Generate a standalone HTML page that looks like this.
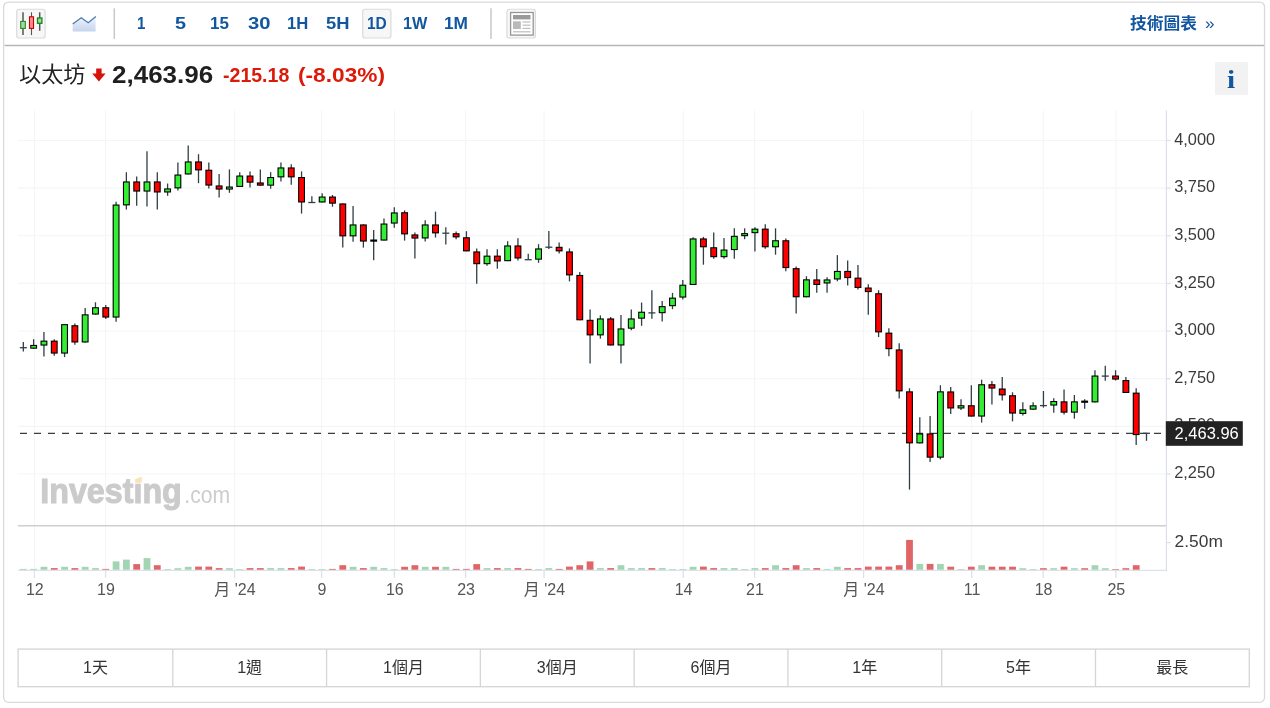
<!DOCTYPE html><html lang="zh-Hant"><head><meta charset="utf-8"><title>以太坊 圖表</title><style>html,body{margin:0;padding:0;background:#fff}body{width:1270px;height:708px;position:relative;overflow:hidden;font-family:'Liberation Sans', 'Noto Sans CJK TC', sans-serif}.card{position:absolute;left:4px;top:2px;width:1260px;height:700px;border-radius:5px;background:#fff}.toolbar{position:absolute;left:4px;top:2px;width:1260px;height:43px}.t{position:absolute;white-space:nowrap;transform-origin:0 50%;display:block}.btn{position:absolute;top:8.6px;width:29.5px;height:30px;box-sizing:border-box;border-radius:3px}.sep{position:absolute;top:8.3px;width:1.5px;height:30.5px;background:#c9c9c9}.chart{position:absolute;left:0;top:0}.info{position:absolute;left:1215px;top:62px;width:33px;height:33px;background:#f2f2f2}.ranges{position:absolute;left:0;top:649px;width:1270px;height:38px}.ranges div{position:absolute;top:0;height:38px}.ranges span{position:absolute;left:0;right:0;top:50%;margin-top:-12px;line-height:24px;text-align:center;font-size:16px;color:#333}</style></head><body><div class="card"></div><div class="toolbar"></div><svg class="chart" width="1270" height="708" viewBox="0 0 1270 708"><g stroke="#f4f5f8" stroke-width="1.1" fill="none"><path d="M18 140.50H1166.4"/><path d="M18 188.14H1166.4"/><path d="M18 235.78H1166.4"/><path d="M18 283.42H1166.4"/><path d="M18 331.06H1166.4"/><path d="M18 378.70H1166.4"/><path d="M18 426.34H1166.4"/><path d="M18 473.98H1166.4"/><path d="M34.40 110.6V570.3"/><path d="M105.60 110.6V570.3"/><path d="M234.60 110.6V570.3"/><path d="M321.60 110.6V570.3"/><path d="M394.40 110.6V570.3"/><path d="M465.70 110.6V570.3"/><path d="M544.10 110.6V570.3"/><path d="M683.20 110.6V570.3"/><path d="M754.60 110.6V570.3"/><path d="M863.60 110.6V570.3"/><path d="M971.70 110.6V570.3"/><path d="M1043.20 110.6V570.3"/><path d="M1115.90 110.6V570.3"/></g><g font-family="'Liberation Sans', 'Noto Sans CJK TC', sans-serif"><text x="40.3" y="503" font-size="34.6" font-weight="700" fill="#cbcbcb" stroke="#cbcbcb" stroke-width="1.1" stroke-linejoin="round" textLength="141.5" lengthAdjust="spacingAndGlyphs">Investing</text><text x="184.3" y="503" font-size="23.5" font-weight="400" fill="#cdcdcd" textLength="45.8" lengthAdjust="spacingAndGlyphs">.com</text><rect x="133.5" y="475" width="9.5" height="8.3" fill="#fff"/><path d="M135.1 482.7 L135.1 479.2 L141.7 476.5 L141.7 482.7 Z" fill="#fbe2b6"/></g><path d="M18 525.7H1167.0" stroke="#cfcfcf" stroke-width="1.4"/><rect x="19.94" y="568.90" width="6.8" height="1.00" fill="#a2d5b3"/><rect x="30.24" y="568.90" width="6.8" height="1.00" fill="#a2d5b3"/><rect x="40.55" y="566.80" width="6.8" height="3.10" fill="#a2d5b3"/><rect x="50.85" y="568.10" width="6.8" height="1.80" fill="#e06567"/><rect x="61.16" y="566.80" width="6.8" height="3.10" fill="#a2d5b3"/><rect x="71.46" y="568.10" width="6.8" height="1.80" fill="#e06567"/><rect x="81.76" y="566.80" width="6.8" height="3.10" fill="#a2d5b3"/><rect x="92.07" y="568.10" width="6.8" height="1.80" fill="#a2d5b3"/><rect x="102.37" y="568.90" width="6.8" height="1.00" fill="#e06567"/><rect x="112.68" y="561.40" width="6.8" height="8.50" fill="#a2d5b3"/><rect x="122.98" y="559.60" width="6.8" height="10.30" fill="#a2d5b3"/><rect x="133.29" y="564.10" width="6.8" height="5.80" fill="#e06567"/><rect x="143.59" y="558.10" width="6.8" height="11.80" fill="#a2d5b3"/><rect x="153.89" y="565.20" width="6.8" height="4.70" fill="#e06567"/><rect x="164.20" y="569.10" width="6.8" height="0.80" fill="#a2d5b3"/><rect x="174.50" y="568.20" width="6.8" height="1.70" fill="#a2d5b3"/><rect x="184.81" y="566.80" width="6.8" height="3.10" fill="#a2d5b3"/><rect x="195.11" y="566.60" width="6.8" height="3.30" fill="#e06567"/><rect x="205.41" y="566.60" width="6.8" height="3.30" fill="#e06567"/><rect x="215.72" y="568.10" width="6.8" height="1.80" fill="#e06567"/><rect x="226.02" y="568.20" width="6.8" height="1.70" fill="#a2d5b3"/><rect x="236.33" y="569.10" width="6.8" height="0.80" fill="#a2d5b3"/><rect x="246.63" y="568.10" width="6.8" height="1.80" fill="#e06567"/><rect x="256.93" y="568.10" width="6.8" height="1.80" fill="#e06567"/><rect x="267.24" y="568.10" width="6.8" height="1.80" fill="#a2d5b3"/><rect x="277.54" y="568.10" width="6.8" height="1.80" fill="#a2d5b3"/><rect x="287.85" y="568.10" width="6.8" height="1.80" fill="#e06567"/><rect x="298.15" y="566.60" width="6.8" height="3.30" fill="#e06567"/><rect x="308.45" y="569.10" width="6.8" height="0.80" fill="#a2d5b3"/><rect x="318.76" y="569.10" width="6.8" height="0.80" fill="#a2d5b3"/><rect x="329.06" y="568.90" width="6.8" height="1.00" fill="#e06567"/><rect x="339.37" y="565.20" width="6.8" height="4.70" fill="#e06567"/><rect x="349.67" y="566.80" width="6.8" height="3.10" fill="#a2d5b3"/><rect x="359.98" y="568.10" width="6.8" height="1.80" fill="#e06567"/><rect x="370.28" y="566.80" width="6.8" height="3.10" fill="#a2d5b3"/><rect x="380.58" y="568.10" width="6.8" height="1.80" fill="#a2d5b3"/><rect x="390.89" y="569.10" width="6.8" height="0.80" fill="#a2d5b3"/><rect x="401.19" y="566.80" width="6.8" height="3.10" fill="#e06567"/><rect x="411.50" y="565.20" width="6.8" height="4.70" fill="#e06567"/><rect x="421.80" y="566.80" width="6.8" height="3.10" fill="#a2d5b3"/><rect x="432.10" y="566.80" width="6.8" height="3.10" fill="#e06567"/><rect x="442.41" y="566.80" width="6.8" height="3.10" fill="#a2d5b3"/><rect x="452.71" y="568.90" width="6.8" height="1.00" fill="#e06567"/><rect x="463.02" y="568.90" width="6.8" height="1.00" fill="#e06567"/><rect x="473.32" y="564.10" width="6.8" height="5.80" fill="#e06567"/><rect x="483.62" y="568.10" width="6.8" height="1.80" fill="#a2d5b3"/><rect x="493.93" y="568.10" width="6.8" height="1.80" fill="#e06567"/><rect x="504.23" y="568.10" width="6.8" height="1.80" fill="#a2d5b3"/><rect x="514.54" y="568.10" width="6.8" height="1.80" fill="#e06567"/><rect x="524.84" y="568.90" width="6.8" height="1.00" fill="#e06567"/><rect x="535.15" y="569.10" width="6.8" height="0.80" fill="#a2d5b3"/><rect x="545.45" y="568.10" width="6.8" height="1.80" fill="#a2d5b3"/><rect x="555.75" y="568.90" width="6.8" height="1.00" fill="#e06567"/><rect x="566.06" y="566.60" width="6.8" height="3.30" fill="#e06567"/><rect x="576.36" y="565.20" width="6.8" height="4.70" fill="#e06567"/><rect x="586.67" y="561.40" width="6.8" height="8.50" fill="#e06567"/><rect x="596.97" y="568.10" width="6.8" height="1.80" fill="#a2d5b3"/><rect x="607.27" y="568.10" width="6.8" height="1.80" fill="#e06567"/><rect x="617.58" y="565.20" width="6.8" height="4.70" fill="#a2d5b3"/><rect x="627.88" y="568.10" width="6.8" height="1.80" fill="#a2d5b3"/><rect x="638.19" y="568.10" width="6.8" height="1.80" fill="#a2d5b3"/><rect x="648.49" y="568.10" width="6.8" height="1.80" fill="#e06567"/><rect x="658.79" y="568.10" width="6.8" height="1.80" fill="#a2d5b3"/><rect x="669.10" y="569.10" width="6.8" height="0.80" fill="#a2d5b3"/><rect x="679.40" y="569.10" width="6.8" height="0.80" fill="#a2d5b3"/><rect x="689.71" y="566.80" width="6.8" height="3.10" fill="#a2d5b3"/><rect x="700.01" y="566.60" width="6.8" height="3.30" fill="#e06567"/><rect x="710.31" y="568.10" width="6.8" height="1.80" fill="#e06567"/><rect x="720.62" y="568.10" width="6.8" height="1.80" fill="#a2d5b3"/><rect x="730.92" y="568.10" width="6.8" height="1.80" fill="#a2d5b3"/><rect x="741.23" y="569.10" width="6.8" height="0.80" fill="#a2d5b3"/><rect x="751.53" y="568.10" width="6.8" height="1.80" fill="#a2d5b3"/><rect x="761.84" y="568.10" width="6.8" height="1.80" fill="#e06567"/><rect x="772.14" y="565.20" width="6.8" height="4.70" fill="#a2d5b3"/><rect x="782.44" y="568.10" width="6.8" height="1.80" fill="#e06567"/><rect x="792.75" y="565.20" width="6.8" height="4.70" fill="#e06567"/><rect x="803.05" y="568.10" width="6.8" height="1.80" fill="#a2d5b3"/><rect x="813.36" y="568.10" width="6.8" height="1.80" fill="#e06567"/><rect x="823.66" y="569.10" width="6.8" height="0.80" fill="#a2d5b3"/><rect x="833.96" y="566.80" width="6.8" height="3.10" fill="#a2d5b3"/><rect x="844.27" y="568.10" width="6.8" height="1.80" fill="#e06567"/><rect x="854.57" y="568.10" width="6.8" height="1.80" fill="#e06567"/><rect x="864.88" y="566.60" width="6.8" height="3.30" fill="#e06567"/><rect x="875.18" y="566.60" width="6.8" height="3.30" fill="#e06567"/><rect x="885.48" y="566.60" width="6.8" height="3.30" fill="#e06567"/><rect x="895.79" y="565.20" width="6.8" height="4.70" fill="#e06567"/><rect x="906.09" y="539.90" width="6.8" height="30.00" fill="#e06567"/><rect x="916.40" y="563.90" width="6.8" height="6.00" fill="#a2d5b3"/><rect x="926.70" y="563.90" width="6.8" height="6.00" fill="#e06567"/><rect x="937.00" y="563.90" width="6.8" height="6.00" fill="#a2d5b3"/><rect x="947.31" y="566.70" width="6.8" height="3.20" fill="#e06567"/><rect x="957.61" y="569.10" width="6.8" height="0.80" fill="#a2d5b3"/><rect x="967.92" y="566.70" width="6.8" height="3.20" fill="#e06567"/><rect x="978.22" y="565.20" width="6.8" height="4.70" fill="#a2d5b3"/><rect x="988.53" y="566.70" width="6.8" height="3.20" fill="#e06567"/><rect x="998.83" y="566.70" width="6.8" height="3.20" fill="#e06567"/><rect x="1009.13" y="566.70" width="6.8" height="3.20" fill="#e06567"/><rect x="1019.44" y="568.20" width="6.8" height="1.70" fill="#a2d5b3"/><rect x="1029.74" y="569.10" width="6.8" height="0.80" fill="#a2d5b3"/><rect x="1040.05" y="568.20" width="6.8" height="1.70" fill="#e06567"/><rect x="1050.35" y="568.20" width="6.8" height="1.70" fill="#a2d5b3"/><rect x="1060.65" y="566.70" width="6.8" height="3.20" fill="#e06567"/><rect x="1070.96" y="568.20" width="6.8" height="1.70" fill="#a2d5b3"/><rect x="1081.26" y="568.20" width="6.8" height="1.70" fill="#e06567"/><rect x="1091.57" y="565.20" width="6.8" height="4.70" fill="#a2d5b3"/><rect x="1101.87" y="568.20" width="6.8" height="1.70" fill="#a2d5b3"/><rect x="1112.17" y="569.10" width="6.8" height="0.80" fill="#e06567"/><rect x="1122.48" y="568.20" width="6.8" height="1.70" fill="#e06567"/><rect x="1132.78" y="565.20" width="6.8" height="4.70" fill="#e06567"/><g stroke="#dde1ec" stroke-width="1.3" fill="none"><path d="M1166.4 110.6V570.9"/><path d="M18 570.3H1167.0"/><path d="M1166.4 140.50h4.3"/><path d="M1166.4 188.14h4.3"/><path d="M1166.4 235.78h4.3"/><path d="M1166.4 283.42h4.3"/><path d="M1166.4 331.06h4.3"/><path d="M1166.4 378.70h4.3"/><path d="M1166.4 426.34h4.3"/><path d="M1166.4 473.98h4.3"/><path d="M1166.4 542.6h4.3"/><path d="M34.40 570.3v7.6"/><path d="M105.60 570.3v7.6"/><path d="M234.60 570.3v7.6"/><path d="M321.60 570.3v7.6"/><path d="M394.40 570.3v7.6"/><path d="M465.70 570.3v7.6"/><path d="M544.10 570.3v7.6"/><path d="M683.20 570.3v7.6"/><path d="M754.60 570.3v7.6"/><path d="M863.60 570.3v7.6"/><path d="M971.70 570.3v7.6"/><path d="M1043.20 570.3v7.6"/><path d="M1115.90 570.3v7.6"/></g><path d="M20 433.4H1166.4" stroke="#3c3c3c" stroke-width="1.2" stroke-dasharray="7 7" fill="none"/><g stroke="#303f45" stroke-width="1.3" fill="none"><path d="M23.34 341.9V351.5"/><path d="M19.84 347.7h7"/><path d="M33.64 339.2V348.7"/><path d="M43.95 332.1V356.5"/><path d="M54.25 339.2V355.8"/><path d="M64.56 324.1V357.1"/><path d="M74.86 323.6V344.7"/><path d="M85.16 308.0V342.5"/><path d="M95.47 302.3V314.6"/><path d="M105.77 305.1V319.1"/><path d="M116.08 201.8V321.7"/><path d="M126.38 172.2V209.6"/><path d="M136.69 176.4V205.8"/><path d="M146.99 151.2V206.6"/><path d="M157.29 172.2V209.6"/><path d="M167.60 183.5V195.8"/><path d="M177.90 162.4V190.4"/><path d="M188.21 145.6V174.5"/><path d="M198.51 154.2V183.2"/><path d="M208.81 162.4V188.6"/><path d="M219.12 174.0V197.4"/><path d="M229.42 169.4V192.8"/><path d="M239.73 172.2V187.0"/><path d="M250.03 171.4V187.5"/><path d="M260.33 169.4V185.7"/><path d="M270.64 172.2V188.7"/><path d="M280.94 162.4V181.6"/><path d="M291.25 164.2V184.8"/><path d="M301.55 171.4V213.6"/><path d="M311.85 196.2V202.5"/><path d="M308.35 202.5h7"/><path d="M322.16 193.2V202.5"/><path d="M332.46 195.0V206.7"/><path d="M342.77 203.4V247.6"/><path d="M353.07 206.0V241.8"/><path d="M363.38 224.4V247.6"/><path d="M373.68 230.0V260.2"/><path d="M383.98 218.4V240.6"/><path d="M394.29 207.2V227.7"/><path d="M404.59 210.4V240.6"/><path d="M414.90 232.5V258.6"/><path d="M425.20 220.2V241.6"/><path d="M435.50 211.6V237.6"/><path d="M445.81 227.2V244.6"/><path d="M442.31 233.2h7"/><path d="M456.11 231.4V239.2"/><path d="M466.42 231.2V251.4"/><path d="M476.72 248.4V283.8"/><path d="M487.02 249.2V265.7"/><path d="M497.33 249.2V268.7"/><path d="M507.63 241.2V261.2"/><path d="M517.94 238.2V260.4"/><path d="M528.24 253.7V259.7"/><path d="M524.74 259.7h7"/><path d="M538.55 244.2V262.8"/><path d="M548.85 231.0V249.0"/><path d="M545.35 247.2h7"/><path d="M559.15 242.4V253.4"/><path d="M569.46 248.4V281.4"/><path d="M579.76 272.0V320.3"/><path d="M590.07 309.5V363.6"/><path d="M600.37 315.4V338.7"/><path d="M610.67 316.9V345.5"/><path d="M620.98 315.1V363.6"/><path d="M631.28 309.5V330.2"/><path d="M641.59 302.5V325.8"/><path d="M651.89 290.2V318.8"/><path d="M648.39 312.9h7"/><path d="M662.19 301.0V321.6"/><path d="M672.50 292.9V309.2"/><path d="M682.80 280.1V299.5"/><path d="M693.11 237.2V285.0"/><path d="M703.41 236.9V264.7"/><path d="M713.71 232.5V258.7"/><path d="M724.02 238.0V258.7"/><path d="M734.32 228.3V258.7"/><path d="M744.63 228.3V239.2"/><path d="M754.93 227.3V251.6"/><path d="M765.24 224.2V248.8"/><path d="M775.54 228.3V254.7"/><path d="M785.84 238.4V271.3"/><path d="M796.15 266.4V313.6"/><path d="M806.45 276.2V297.3"/><path d="M816.76 269.0V292.7"/><path d="M827.06 277.3V292.7"/><path d="M837.36 255.1V281.3"/><path d="M847.67 260.6V285.5"/><path d="M857.97 265.0V289.5"/><path d="M868.28 284.3V314.7"/><path d="M878.58 290.2V337.1"/><path d="M888.88 328.2V356.3"/><path d="M899.19 343.3V398.6"/><path d="M909.49 388.2V489.6"/><path d="M919.80 417.2V443.4"/><path d="M930.10 416.0V461.9"/><path d="M940.40 385.2V459.4"/><path d="M950.71 387.0V414.1"/><path d="M961.01 399.3V410.0"/><path d="M971.32 385.2V416.6"/><path d="M981.62 379.7V422.6"/><path d="M991.93 381.1V404.5"/><path d="M1002.23 377.1V400.5"/><path d="M1012.53 392.3V421.4"/><path d="M1022.84 402.2V415.6"/><path d="M1033.14 402.2V409.7"/><path d="M1043.45 391.0V407.6"/><path d="M1039.95 405.6h7"/><path d="M1053.75 398.2V412.7"/><path d="M1064.05 389.5V414.4"/><path d="M1074.36 395.0V418.7"/><path d="M1084.66 399.3V408.7"/><path d="M1094.97 370.2V402.4"/><path d="M1105.27 365.7V380.8"/><path d="M1101.77 376.1h7"/><path d="M1115.57 370.2V380.5"/><path d="M1125.88 377.1V393.0"/><path d="M1136.18 388.3V445.1"/><path d="M1146.49 433.3V440.8"/><path d="M1142.99 433.3h7"/></g><rect x="30.19" y="344.9" width="6.9" height="3.8" fill="#000"/><rect x="31.29" y="346.0" width="4.7" height="1.6" fill="#33ee33"/><rect x="40.50" y="340.6" width="6.9" height="5.0" fill="#000"/><rect x="41.60" y="341.7" width="4.7" height="2.8" fill="#33ee33"/><rect x="50.80" y="340.6" width="6.9" height="13.0" fill="#000"/><rect x="51.90" y="341.7" width="4.7" height="10.8" fill="#ff0000"/><rect x="61.11" y="324.1" width="6.9" height="29.5" fill="#000"/><rect x="62.21" y="325.2" width="4.7" height="27.3" fill="#33ee33"/><rect x="71.41" y="325.2" width="6.9" height="17.3" fill="#000"/><rect x="72.51" y="326.3" width="4.7" height="15.1" fill="#ff0000"/><rect x="81.71" y="314.3" width="6.9" height="28.2" fill="#000"/><rect x="82.81" y="315.4" width="4.7" height="26.0" fill="#33ee33"/><rect x="92.02" y="307.2" width="6.9" height="7.4" fill="#000"/><rect x="93.12" y="308.3" width="4.7" height="5.2" fill="#33ee33"/><rect x="102.32" y="307.2" width="6.9" height="10.4" fill="#000"/><rect x="103.42" y="308.3" width="4.7" height="8.2" fill="#ff0000"/><rect x="112.63" y="204.5" width="6.9" height="113.1" fill="#000"/><rect x="113.73" y="205.6" width="4.7" height="110.9" fill="#33ee33"/><rect x="122.93" y="181.4" width="6.9" height="24.0" fill="#000"/><rect x="124.03" y="182.5" width="4.7" height="21.8" fill="#33ee33"/><rect x="133.24" y="181.4" width="6.9" height="10.2" fill="#000"/><rect x="134.34" y="182.5" width="4.7" height="8.0" fill="#ff0000"/><rect x="143.54" y="181.4" width="6.9" height="10.2" fill="#000"/><rect x="144.64" y="182.5" width="4.7" height="8.0" fill="#33ee33"/><rect x="153.84" y="181.4" width="6.9" height="11.1" fill="#000"/><rect x="154.94" y="182.5" width="4.7" height="8.9" fill="#ff0000"/><rect x="164.15" y="188.4" width="6.9" height="4.1" fill="#000"/><rect x="165.25" y="189.5" width="4.7" height="1.9" fill="#33ee33"/><rect x="174.45" y="174.5" width="6.9" height="13.9" fill="#000"/><rect x="175.55" y="175.6" width="4.7" height="11.7" fill="#33ee33"/><rect x="184.76" y="161.4" width="6.9" height="13.1" fill="#000"/><rect x="185.86" y="162.5" width="4.7" height="10.9" fill="#33ee33"/><rect x="195.06" y="161.4" width="6.9" height="9.0" fill="#000"/><rect x="196.16" y="162.5" width="4.7" height="6.8" fill="#ff0000"/><rect x="205.36" y="169.7" width="6.9" height="15.9" fill="#000"/><rect x="206.46" y="170.8" width="4.7" height="13.7" fill="#ff0000"/><rect x="215.67" y="185.4" width="6.9" height="4.2" fill="#000"/><rect x="216.77" y="186.5" width="4.7" height="2.0" fill="#ff0000"/><rect x="225.97" y="186.5" width="6.9" height="3.1" fill="#000"/><rect x="227.07" y="187.6" width="4.7" height="0.9" fill="#33ee33"/><rect x="236.28" y="175.5" width="6.9" height="11.5" fill="#000"/><rect x="237.38" y="176.6" width="4.7" height="9.3" fill="#33ee33"/><rect x="246.58" y="175.5" width="6.9" height="7.2" fill="#000"/><rect x="247.68" y="176.6" width="4.7" height="5.0" fill="#ff0000"/><rect x="256.88" y="182.4" width="6.9" height="3.3" fill="#000"/><rect x="257.98" y="183.5" width="4.7" height="1.1" fill="#ff0000"/><rect x="267.19" y="177.0" width="6.9" height="8.7" fill="#000"/><rect x="268.29" y="178.1" width="4.7" height="6.5" fill="#33ee33"/><rect x="277.49" y="167.4" width="6.9" height="10.0" fill="#000"/><rect x="278.59" y="168.5" width="4.7" height="7.8" fill="#33ee33"/><rect x="287.80" y="167.4" width="6.9" height="10.0" fill="#000"/><rect x="288.90" y="168.5" width="4.7" height="7.8" fill="#ff0000"/><rect x="298.10" y="177.0" width="6.9" height="25.5" fill="#000"/><rect x="299.20" y="178.1" width="4.7" height="23.3" fill="#ff0000"/><rect x="318.71" y="196.5" width="6.9" height="6.0" fill="#000"/><rect x="319.81" y="197.6" width="4.7" height="3.8" fill="#33ee33"/><rect x="329.01" y="196.5" width="6.9" height="7.2" fill="#000"/><rect x="330.11" y="197.6" width="4.7" height="5.0" fill="#ff0000"/><rect x="339.32" y="203.4" width="6.9" height="33.0" fill="#000"/><rect x="340.42" y="204.5" width="4.7" height="30.8" fill="#ff0000"/><rect x="349.62" y="224.4" width="6.9" height="12.0" fill="#000"/><rect x="350.72" y="225.5" width="4.7" height="9.8" fill="#33ee33"/><rect x="359.93" y="224.4" width="6.9" height="17.2" fill="#000"/><rect x="361.03" y="225.5" width="4.7" height="15.0" fill="#ff0000"/><rect x="370.23" y="239.5" width="6.9" height="2.2" fill="#000"/><rect x="380.53" y="223.5" width="6.9" height="17.1" fill="#000"/><rect x="381.63" y="224.6" width="4.7" height="14.9" fill="#33ee33"/><rect x="390.84" y="212.4" width="6.9" height="11.2" fill="#000"/><rect x="391.94" y="213.5" width="4.7" height="9.0" fill="#33ee33"/><rect x="401.14" y="212.2" width="6.9" height="22.2" fill="#000"/><rect x="402.24" y="213.3" width="4.7" height="20.0" fill="#ff0000"/><rect x="411.45" y="234.4" width="6.9" height="4.2" fill="#000"/><rect x="412.55" y="235.5" width="4.7" height="2.0" fill="#ff0000"/><rect x="421.75" y="224.4" width="6.9" height="14.1" fill="#000"/><rect x="422.85" y="225.5" width="4.7" height="11.9" fill="#33ee33"/><rect x="432.05" y="224.4" width="6.9" height="9.0" fill="#000"/><rect x="433.15" y="225.5" width="4.7" height="6.8" fill="#ff0000"/><rect x="452.66" y="233.2" width="6.9" height="4.2" fill="#000"/><rect x="453.76" y="234.3" width="4.7" height="2.0" fill="#ff0000"/><rect x="462.97" y="237.2" width="6.9" height="14.2" fill="#000"/><rect x="464.07" y="238.3" width="4.7" height="12.0" fill="#ff0000"/><rect x="473.27" y="251.4" width="6.9" height="12.8" fill="#000"/><rect x="474.37" y="252.5" width="4.7" height="10.6" fill="#ff0000"/><rect x="483.57" y="255.6" width="6.9" height="8.6" fill="#000"/><rect x="484.67" y="256.7" width="4.7" height="6.4" fill="#33ee33"/><rect x="493.88" y="255.6" width="6.9" height="5.9" fill="#000"/><rect x="494.98" y="256.7" width="4.7" height="3.7" fill="#ff0000"/><rect x="504.18" y="245.4" width="6.9" height="15.8" fill="#000"/><rect x="505.28" y="246.5" width="4.7" height="13.6" fill="#33ee33"/><rect x="514.49" y="245.4" width="6.9" height="13.1" fill="#000"/><rect x="515.59" y="246.5" width="4.7" height="10.9" fill="#ff0000"/><rect x="535.10" y="248.4" width="6.9" height="11.3" fill="#000"/><rect x="536.20" y="249.5" width="4.7" height="9.1" fill="#33ee33"/><rect x="555.70" y="246.8" width="6.9" height="4.6" fill="#000"/><rect x="556.80" y="247.9" width="4.7" height="2.4" fill="#ff0000"/><rect x="566.01" y="251.4" width="6.9" height="24.0" fill="#000"/><rect x="567.11" y="252.5" width="4.7" height="21.8" fill="#ff0000"/><rect x="576.31" y="274.9" width="6.9" height="45.4" fill="#000"/><rect x="577.41" y="276.0" width="4.7" height="43.2" fill="#ff0000"/><rect x="586.62" y="319.8" width="6.9" height="15.6" fill="#000"/><rect x="587.72" y="320.9" width="4.7" height="13.4" fill="#ff0000"/><rect x="596.92" y="318.4" width="6.9" height="17.0" fill="#000"/><rect x="598.02" y="319.5" width="4.7" height="14.8" fill="#33ee33"/><rect x="607.22" y="318.4" width="6.9" height="27.1" fill="#000"/><rect x="608.32" y="319.5" width="4.7" height="24.9" fill="#ff0000"/><rect x="617.53" y="328.4" width="6.9" height="17.1" fill="#000"/><rect x="618.63" y="329.5" width="4.7" height="14.9" fill="#33ee33"/><rect x="627.83" y="318.4" width="6.9" height="10.3" fill="#000"/><rect x="628.93" y="319.5" width="4.7" height="8.1" fill="#33ee33"/><rect x="638.14" y="311.7" width="6.9" height="7.0" fill="#000"/><rect x="639.24" y="312.8" width="4.7" height="4.8" fill="#33ee33"/><rect x="658.74" y="306.1" width="6.9" height="7.1" fill="#000"/><rect x="659.84" y="307.2" width="4.7" height="4.9" fill="#33ee33"/><rect x="669.05" y="297.6" width="6.9" height="8.6" fill="#000"/><rect x="670.15" y="298.7" width="4.7" height="6.4" fill="#33ee33"/><rect x="679.35" y="284.7" width="6.9" height="12.9" fill="#000"/><rect x="680.45" y="285.8" width="4.7" height="10.7" fill="#33ee33"/><rect x="689.66" y="238.4" width="6.9" height="46.6" fill="#000"/><rect x="690.76" y="239.5" width="4.7" height="44.4" fill="#33ee33"/><rect x="699.96" y="238.4" width="6.9" height="8.9" fill="#000"/><rect x="701.06" y="239.5" width="4.7" height="6.7" fill="#ff0000"/><rect x="710.26" y="247.2" width="6.9" height="10.0" fill="#000"/><rect x="711.36" y="248.3" width="4.7" height="7.8" fill="#ff0000"/><rect x="720.57" y="249.5" width="6.9" height="7.7" fill="#000"/><rect x="721.67" y="250.6" width="4.7" height="5.5" fill="#33ee33"/><rect x="730.87" y="235.8" width="6.9" height="14.3" fill="#000"/><rect x="731.97" y="236.9" width="4.7" height="12.1" fill="#33ee33"/><rect x="741.18" y="233.1" width="6.9" height="3.1" fill="#000"/><rect x="742.28" y="234.2" width="4.7" height="0.9" fill="#33ee33"/><rect x="751.48" y="228.6" width="6.9" height="4.6" fill="#000"/><rect x="752.58" y="229.7" width="4.7" height="2.4" fill="#33ee33"/><rect x="761.79" y="228.6" width="6.9" height="18.7" fill="#000"/><rect x="762.89" y="229.7" width="4.7" height="16.5" fill="#ff0000"/><rect x="772.09" y="240.2" width="6.9" height="7.1" fill="#000"/><rect x="773.19" y="241.3" width="4.7" height="4.9" fill="#33ee33"/><rect x="782.39" y="240.2" width="6.9" height="27.9" fill="#000"/><rect x="783.49" y="241.3" width="4.7" height="25.7" fill="#ff0000"/><rect x="792.70" y="268.1" width="6.9" height="29.2" fill="#000"/><rect x="793.80" y="269.2" width="4.7" height="27.0" fill="#ff0000"/><rect x="803.00" y="279.3" width="6.9" height="18.0" fill="#000"/><rect x="804.10" y="280.4" width="4.7" height="15.8" fill="#33ee33"/><rect x="813.31" y="279.4" width="6.9" height="5.6" fill="#000"/><rect x="814.41" y="280.5" width="4.7" height="3.4" fill="#ff0000"/><rect x="823.61" y="279.4" width="6.9" height="4.1" fill="#000"/><rect x="824.71" y="280.5" width="4.7" height="1.9" fill="#33ee33"/><rect x="833.91" y="270.9" width="6.9" height="8.6" fill="#000"/><rect x="835.01" y="272.0" width="4.7" height="6.4" fill="#33ee33"/><rect x="844.22" y="270.9" width="6.9" height="7.2" fill="#000"/><rect x="845.32" y="272.0" width="4.7" height="5.0" fill="#ff0000"/><rect x="854.52" y="277.6" width="6.9" height="10.4" fill="#000"/><rect x="855.62" y="278.7" width="4.7" height="8.2" fill="#ff0000"/><rect x="864.83" y="287.5" width="6.9" height="4.6" fill="#000"/><rect x="865.93" y="288.6" width="4.7" height="2.4" fill="#ff0000"/><rect x="875.13" y="293.2" width="6.9" height="39.2" fill="#000"/><rect x="876.23" y="294.3" width="4.7" height="37.0" fill="#ff0000"/><rect x="885.43" y="332.6" width="6.9" height="16.6" fill="#000"/><rect x="886.53" y="333.7" width="4.7" height="14.4" fill="#ff0000"/><rect x="895.74" y="349.4" width="6.9" height="42.0" fill="#000"/><rect x="896.84" y="350.5" width="4.7" height="39.8" fill="#ff0000"/><rect x="906.04" y="391.3" width="6.9" height="52.1" fill="#000"/><rect x="907.14" y="392.4" width="4.7" height="49.9" fill="#ff0000"/><rect x="916.35" y="433.4" width="6.9" height="10.0" fill="#000"/><rect x="917.45" y="434.5" width="4.7" height="7.8" fill="#33ee33"/><rect x="926.65" y="433.4" width="6.9" height="24.3" fill="#000"/><rect x="927.75" y="434.5" width="4.7" height="22.1" fill="#ff0000"/><rect x="936.95" y="391.3" width="6.9" height="66.4" fill="#000"/><rect x="938.05" y="392.4" width="4.7" height="64.2" fill="#33ee33"/><rect x="947.26" y="391.4" width="6.9" height="17.1" fill="#000"/><rect x="948.36" y="392.5" width="4.7" height="14.9" fill="#ff0000"/><rect x="957.56" y="405.2" width="6.9" height="3.3" fill="#000"/><rect x="958.66" y="406.3" width="4.7" height="1.1" fill="#33ee33"/><rect x="967.87" y="405.2" width="6.9" height="11.4" fill="#000"/><rect x="968.97" y="406.3" width="4.7" height="9.2" fill="#ff0000"/><rect x="978.17" y="384.2" width="6.9" height="32.4" fill="#000"/><rect x="979.27" y="385.3" width="4.7" height="30.2" fill="#33ee33"/><rect x="988.48" y="384.2" width="6.9" height="4.4" fill="#000"/><rect x="989.58" y="385.3" width="4.7" height="2.2" fill="#ff0000"/><rect x="998.78" y="388.5" width="6.9" height="6.9" fill="#000"/><rect x="999.88" y="389.6" width="4.7" height="4.7" fill="#ff0000"/><rect x="1009.08" y="395.2" width="6.9" height="18.4" fill="#000"/><rect x="1010.18" y="396.3" width="4.7" height="16.2" fill="#ff0000"/><rect x="1019.39" y="409.3" width="6.9" height="4.7" fill="#000"/><rect x="1020.49" y="410.4" width="4.7" height="2.5" fill="#33ee33"/><rect x="1029.69" y="405.3" width="6.9" height="4.4" fill="#000"/><rect x="1030.79" y="406.4" width="4.7" height="2.2" fill="#33ee33"/><rect x="1050.30" y="401.0" width="6.9" height="4.6" fill="#000"/><rect x="1051.40" y="402.1" width="4.7" height="2.4" fill="#33ee33"/><rect x="1060.60" y="401.3" width="6.9" height="11.4" fill="#000"/><rect x="1061.70" y="402.4" width="4.7" height="9.2" fill="#ff0000"/><rect x="1070.91" y="401.3" width="6.9" height="11.4" fill="#000"/><rect x="1072.01" y="402.4" width="4.7" height="9.2" fill="#33ee33"/><rect x="1081.21" y="400.6" width="6.9" height="2.2" fill="#000"/><rect x="1091.52" y="375.5" width="6.9" height="26.9" fill="#000"/><rect x="1092.62" y="376.6" width="4.7" height="24.7" fill="#33ee33"/><rect x="1112.12" y="375.5" width="6.9" height="4.1" fill="#000"/><rect x="1113.22" y="376.6" width="4.7" height="1.9" fill="#ff0000"/><rect x="1122.43" y="380.0" width="6.9" height="13.0" fill="#000"/><rect x="1123.53" y="381.1" width="4.7" height="10.8" fill="#ff0000"/><rect x="1132.73" y="392.6" width="6.9" height="42.5" fill="#000"/><rect x="1133.83" y="393.7" width="4.7" height="40.3" fill="#ff0000"/><g font-family="'Liberation Sans', 'Noto Sans CJK TC', sans-serif" font-size="16" fill="#3a3a3a"><text x="1174.2" y="144.6" textLength="41" lengthAdjust="spacingAndGlyphs">4,000</text><text x="1174.2" y="192.2" textLength="41" lengthAdjust="spacingAndGlyphs">3,750</text><text x="1174.2" y="239.9" textLength="41" lengthAdjust="spacingAndGlyphs">3,500</text><text x="1174.2" y="287.5" textLength="41" lengthAdjust="spacingAndGlyphs">3,250</text><text x="1174.2" y="335.2" textLength="41" lengthAdjust="spacingAndGlyphs">3,000</text><text x="1174.2" y="382.8" textLength="41" lengthAdjust="spacingAndGlyphs">2,750</text><text x="1174.2" y="430.4" textLength="41" lengthAdjust="spacingAndGlyphs">2,500</text><text x="1174.2" y="478.1" textLength="41" lengthAdjust="spacingAndGlyphs">2,250</text><text x="1174.6" y="547" textLength="48.3" lengthAdjust="spacingAndGlyphs">2.50m</text></g><g font-family="'Liberation Sans', 'Noto Sans CJK TC', sans-serif" font-size="16" fill="#555" text-anchor="middle"><text x="34.8" y="594.7">12</text><text x="106.0" y="594.7">19</text><text x="235.0" y="594.7">月 '24</text><text x="322.0" y="594.7">9</text><text x="394.8" y="594.7">16</text><text x="466.1" y="594.7">23</text><text x="544.5" y="594.7">月 '24</text><text x="683.6" y="594.7">14</text><text x="755.0" y="594.7">21</text><text x="864.0" y="594.7">月 '24</text><text x="972.1" y="594.7">11</text><text x="1043.6" y="594.7">18</text><text x="1116.3" y="594.7">25</text></g><rect x="1165.8" y="421.2" width="77" height="24.6" fill="#222"/><text x="1174.6" y="439.3" font-family="'Liberation Sans', 'Noto Sans CJK TC', sans-serif" font-size="16" fill="#fff" textLength="64.2" lengthAdjust="spacingAndGlyphs">2,463.96</text><rect x="16.700000000000003" y="9.25" width="28.40" height="28.75" rx="2.6" fill="#f7f7f7" stroke="#dbdbdb" stroke-width="1.2"/><rect x="362.70000000000005" y="9.25" width="28.20" height="28.75" rx="2.6" fill="#f7f7f7" stroke="#dbdbdb" stroke-width="1.2"/><rect x="506.90000000000003" y="9.25" width="28.50" height="28.75" rx="2.6" fill="#f7f7f7" stroke="#dbdbdb" stroke-width="1.2"/><g><g stroke="#555" fill="none"><path d="M23 12.3V35.1" stroke-width="1.5"/><path d="M31.5 12.3V35.1" stroke-width="1.1"/><path d="M39.7 12.3V30.8" stroke-width="1.5"/></g><rect x="20.7" y="21.4" width="4.6" height="7" fill="#a5d6a5" stroke="#1f8f1f" stroke-width="1.1"/><rect x="29.5" y="16.8" width="4" height="11.6" fill="#ff8c8c" stroke="#c40000" stroke-width="1.1"/><rect x="37.5" y="18" width="4.4" height="5.3" fill="#a5d6a5" stroke="#0e8a0e" stroke-width="1.3"/></g><g><defs><linearGradient id="ag" x1="0" y1="0" x2="0" y2="1"><stop offset="0" stop-color="#f1f4fb"/><stop offset="1" stop-color="#c6d4ee"/></linearGradient></defs><path d="M72.7 24L81.2 17.7L88.2 22.7L95.6 16.6V31.4H72.7Z" fill="url(#ag)"/><path d="M72.7 24L81.2 17.7L88.2 22.7L95.9 16.4" fill="none" stroke="#4a7db5" stroke-width="1.3"/></g><g><rect x="510.6" y="12.5" width="22.6" height="22.6" fill="#fff" stroke="#969696" stroke-width="1.3"/><rect x="513" y="15" width="17.5" height="4.4" fill="#9a9a9a"/><rect x="513" y="21.3" width="7.8" height="7.7" fill="#b9b9b9"/><g stroke="#bdbdbd" stroke-width="1.2"><path d="M522.6 22H530.5"/><path d="M522.6 25.2H530.5"/><path d="M522.6 28.4H530.5"/><path d="M513 31.8H530.5"/></g></g><g stroke="#c8c8c8" stroke-width="1.5"><path d="M114.3 8.3V38.9"/><path d="M491 8.3V38.9"/></g><rect x="3.6" y="2.1" width="1260.95" height="700.2" rx="5" ry="5" fill="none" stroke="#dadada" stroke-width="1.3"/><path d="M4.5 45.4H1264" stroke="#b6b6b6" stroke-width="1.5"/><g fill="none" stroke="#d6d6d6" stroke-width="1.35"><rect x="18.1" y="649.1" width="1231.20" height="37.6"/><path d="M172.80 649.1V686.7"/><path d="M326.58 649.1V686.7"/><path d="M480.36 649.1V686.7"/><path d="M634.14 649.1V686.7"/><path d="M787.92 649.1V686.7"/><path d="M941.70 649.1V686.7"/><path d="M1095.48 649.1V686.7"/></g></svg><div class="btn" style="left:16px"></div><div class="btn" style="left:69px"></div><div class="btn" style="left:362px"></div><div class="btn" style="left:506px"></div><span class="t" id="tb0" style="left:137.20px;top:15.30px;font-size:17px;line-height:17px;color:#1256a0;font-weight:700;font-family:'Liberation Sans', 'Noto Sans CJK TC', sans-serif;transform:scaleX(0.8889);">1</span><span class="t" id="tb1" style="left:175.22px;top:15.30px;font-size:17px;line-height:17px;color:#1256a0;font-weight:700;font-family:'Liberation Sans', 'Noto Sans CJK TC', sans-serif;transform:scaleX(1.1647);">5</span><span class="t" id="tb2" style="left:210.17px;top:15.30px;font-size:17px;line-height:17px;color:#1256a0;font-weight:700;font-family:'Liberation Sans', 'Noto Sans CJK TC', sans-serif;transform:scaleX(1.0014);">15</span><span class="t" id="tb3" style="left:248.01px;top:15.30px;font-size:17px;line-height:17px;color:#1256a0;font-weight:700;font-family:'Liberation Sans', 'Noto Sans CJK TC', sans-serif;transform:scaleX(1.1887);">30</span><span class="t" id="tb4" style="left:287.30px;top:15.30px;font-size:17px;line-height:17px;color:#1256a0;font-weight:700;font-family:'Liberation Sans', 'Noto Sans CJK TC', sans-serif;transform:scaleX(0.9795);">1H</span><span class="t" id="tb5" style="left:325.93px;top:15.30px;font-size:17px;line-height:17px;color:#1256a0;font-weight:700;font-family:'Liberation Sans', 'Noto Sans CJK TC', sans-serif;transform:scaleX(1.0800);">5H</span><span class="t" id="tb6" style="left:366.69px;top:15.30px;font-size:17px;line-height:17px;color:#1256a0;font-weight:700;font-family:'Liberation Sans', 'Noto Sans CJK TC', sans-serif;transform:scaleX(0.9100);">1D</span><span class="t" id="tb7" style="left:403.44px;top:15.30px;font-size:17px;line-height:17px;color:#1256a0;font-weight:700;font-family:'Liberation Sans', 'Noto Sans CJK TC', sans-serif;transform:scaleX(0.9559);">1W</span><span class="t" id="tb8" style="left:443.56px;top:15.30px;font-size:17px;line-height:17px;color:#1256a0;font-weight:700;font-family:'Liberation Sans', 'Noto Sans CJK TC', sans-serif;transform:scaleX(1.0152);">1M</span><span class="t" id="lnk" style="left:1130.48px;top:16.00px;font-size:16px;line-height:16px;color:#1256a0;font-weight:700;font-family:'Liberation Sans', 'Noto Sans CJK TC', sans-serif;transform:scaleX(1.0455);">技術圖表</span><span class="t" id="lnk2" style="left:1205.37px;top:15.00px;font-size:17px;line-height:17px;color:#1256a0;font-weight:400;font-family:'Liberation Sans', 'Noto Sans CJK TC', sans-serif;transform:scaleX(1.0092);">»</span><span class="t" id="nm" style="left:18.50px;top:65.40px;font-size:21.5px;line-height:21.5px;color:#222;font-weight:400;font-family:'Liberation Sans', 'Noto Sans CJK TC', sans-serif;transform:scaleX(1.0295);">以太坊</span><svg style="position:absolute;left:92px;top:68px" width="14" height="14" viewBox="92 68 14 14"><path d="M96.2 68.6h5.4v5h4L98.9 81.6L92.2 73.6h4Z" fill="#d8110a"/></svg><span class="t" id="px" style="left:112.26px;top:63.60px;font-size:23.3px;line-height:23.3px;color:#1f1f1f;font-weight:700;font-family:'Liberation Sans', 'Noto Sans CJK TC', sans-serif;transform:scaleX(1.1164);">2,463.96</span><span class="t" id="ch" style="left:222.59px;top:65.20px;font-size:20.6px;line-height:20.6px;color:#dc1a0a;font-weight:700;font-family:'Liberation Sans', 'Noto Sans CJK TC', sans-serif;transform:scaleX(0.9492);">-215.18</span><span class="t" id="pc" style="left:298.40px;top:65.20px;font-size:20.6px;line-height:20.6px;color:#dc1a0a;font-weight:700;font-family:'Liberation Sans', 'Noto Sans CJK TC', sans-serif;transform:scaleX(1.1013);">(-8.03%)</span><div class="info"></div><span class="t" id="inf" style="left:1227.26px;top:67.60px;font-size:24.5px;line-height:24.5px;color:#1256a0;font-weight:700;font-family:'Liberation Serif', 'Noto Serif CJK SC', serif;transform:scaleX(1.1915);">i</span><div class="ranges"><div style="left:18.10px;width:154.70px"><span>1天</span></div><div style="left:172.80px;width:153.78px"><span>1週</span></div><div style="left:326.58px;width:153.78px"><span>1個月</span></div><div style="left:480.36px;width:153.78px"><span>3個月</span></div><div style="left:634.14px;width:153.78px"><span>6個月</span></div><div style="left:787.92px;width:153.78px"><span>1年</span></div><div style="left:941.70px;width:153.78px"><span>5年</span></div><div style="left:1095.48px;width:153.82px"><span>最長</span></div></div></body></html>
